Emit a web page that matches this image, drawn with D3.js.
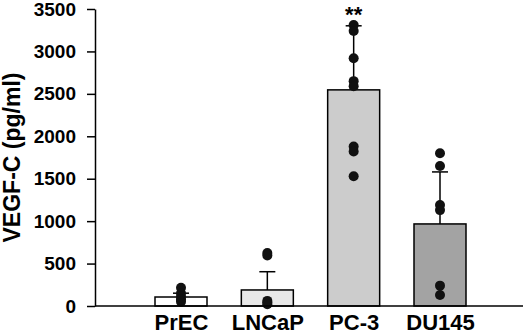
<!DOCTYPE html>
<html>
<head>
<meta charset="utf-8">
<script src="https://cdn.jsdelivr.net/npm/d3@7"></script>
<style>
  html, body { margin: 0; padding: 0; background: #fff; }
  svg { display: block; font-family: "Liberation Sans", Arial, sans-serif; }
</style>
</head>
<body>
<div id="chart"></div>
<script>
// Bar chart with SD error bars and individual data points

const categories = ['PrEC', 'LNCaP', 'PC-3', 'DU145'];
const means = [106, 189, 2547, 967];
const sds = [45, 215, 755, 613];
const barColors = ['#ffffff', '#e8e8e8', '#cccccc', '#a3a3a3'];
const points = [
    [215, 150, 110, 80, 50],
    [625, 595, 60, 40, 20],
    [3310, 3240, 2920, 2650, 2590, 1880, 1820, 1530],
    [1800, 1650, 1190, 1130, 240, 130]
];
const yTicks = [0, 500, 1000, 1500, 2000, 2500, 3000, 3500];
const significance = ['', '', '**', ''];

const W = 526, H = 336;
const M = { top: 9, right: 3, bottom: 30, left: 95 };
const iH = H - M.top - M.bottom;

const svg = d3.select('#chart').append('svg')
    .attr('width', W).attr('height', H);

const y = d3.scaleLinear().domain([0, 3500]).range([M.top + iH, M.top]);
const x = d3.scalePoint().domain(categories).range([181, 440]);
const barW = 52;

// Error bars (upper only)
const eb = svg.append('g');
categories.forEach((c, i) => {
    const cx = x(c);
    eb.append('line')
        .attr('x1', cx).attr('x2', cx)
        .attr('y1', y(means[i])).attr('y2', y(means[i] + sds[i]))
        .attr('stroke', '#000').attr('stroke-width', 1.5);
    eb.append('line')
        .attr('x1', cx - 8).attr('x2', cx + 8)
        .attr('y1', y(means[i] + sds[i])).attr('y2', y(means[i] + sds[i]))
        .attr('stroke', '#000').attr('stroke-width', 1.5);
});

// Bars
svg.append('g').selectAll('rect').data(categories).enter().append('rect')
    .attr('x', d => x(d) - barW / 2)
    .attr('y', (d, i) => y(means[i]))
    .attr('width', barW)
    .attr('height', (d, i) => y(0) - y(means[i]))
    .attr('fill', (d, i) => barColors[i])
    .attr('stroke', '#000').attr('stroke-width', 1.5);

// Points
const pg = svg.append('g');
categories.forEach((c, i) => {
    pg.selectAll(null).data(points[i]).enter().append('circle')
        .attr('cx', x(c)).attr('cy', d => y(d))
        .attr('r', 5).attr('fill', '#111');
});

// Significance marks
svg.append('g').selectAll('text').data(categories).enter().append('text')
    .attr('x', d => x(d))
    .attr('y', (d, i) => y(means[i] + sds[i]) - 4)
    .attr('text-anchor', 'middle')
    .attr('font-size', 22).attr('font-weight', 'bold')
    .text((d, i) => significance[i]);

// Y axis
const yAxis = svg.append('g').attr('transform', `translate(${M.left},0)`)
    .call(d3.axisLeft(y).tickValues(yTicks).tickFormat(d3.format('d'))
        .tickSize(8).tickSizeOuter(0).tickPadding(11));
yAxis.selectAll('text').attr('font-size', 19).attr('font-weight', 'bold')
    .attr('font-family', '"Liberation Sans", Arial, sans-serif').attr('fill', '#000');
yAxis.selectAll('line, path').attr('stroke', '#000').attr('stroke-width', 1.5);

// X axis baseline
svg.append('line')
    .attr('x1', M.left).attr('x2', 523)
    .attr('y1', y(0)).attr('y2', y(0))
    .attr('stroke', '#000').attr('stroke-width', 1.5);

const xAxis = svg.append('g').attr('transform', `translate(0,${y(0)})`)
    .call(d3.axisBottom(x).tickSize(0).tickPadding(8));
xAxis.select('.domain').remove();
xAxis.selectAll('text').attr('font-size', 22).attr('font-weight', 'bold')
    .attr('font-family', '"Liberation Sans", Arial, sans-serif').attr('fill', '#000');

// Y label
svg.append('text')
    .attr('transform', 'rotate(-90)')
    .attr('x', -(M.top + iH / 2)).attr('y', 20)
    .attr('text-anchor', 'middle')
    .attr('font-size', 23).attr('font-weight', 'bold')
    .text('VEGF-C (pg/ml)');
</script>
</body>
</html>
